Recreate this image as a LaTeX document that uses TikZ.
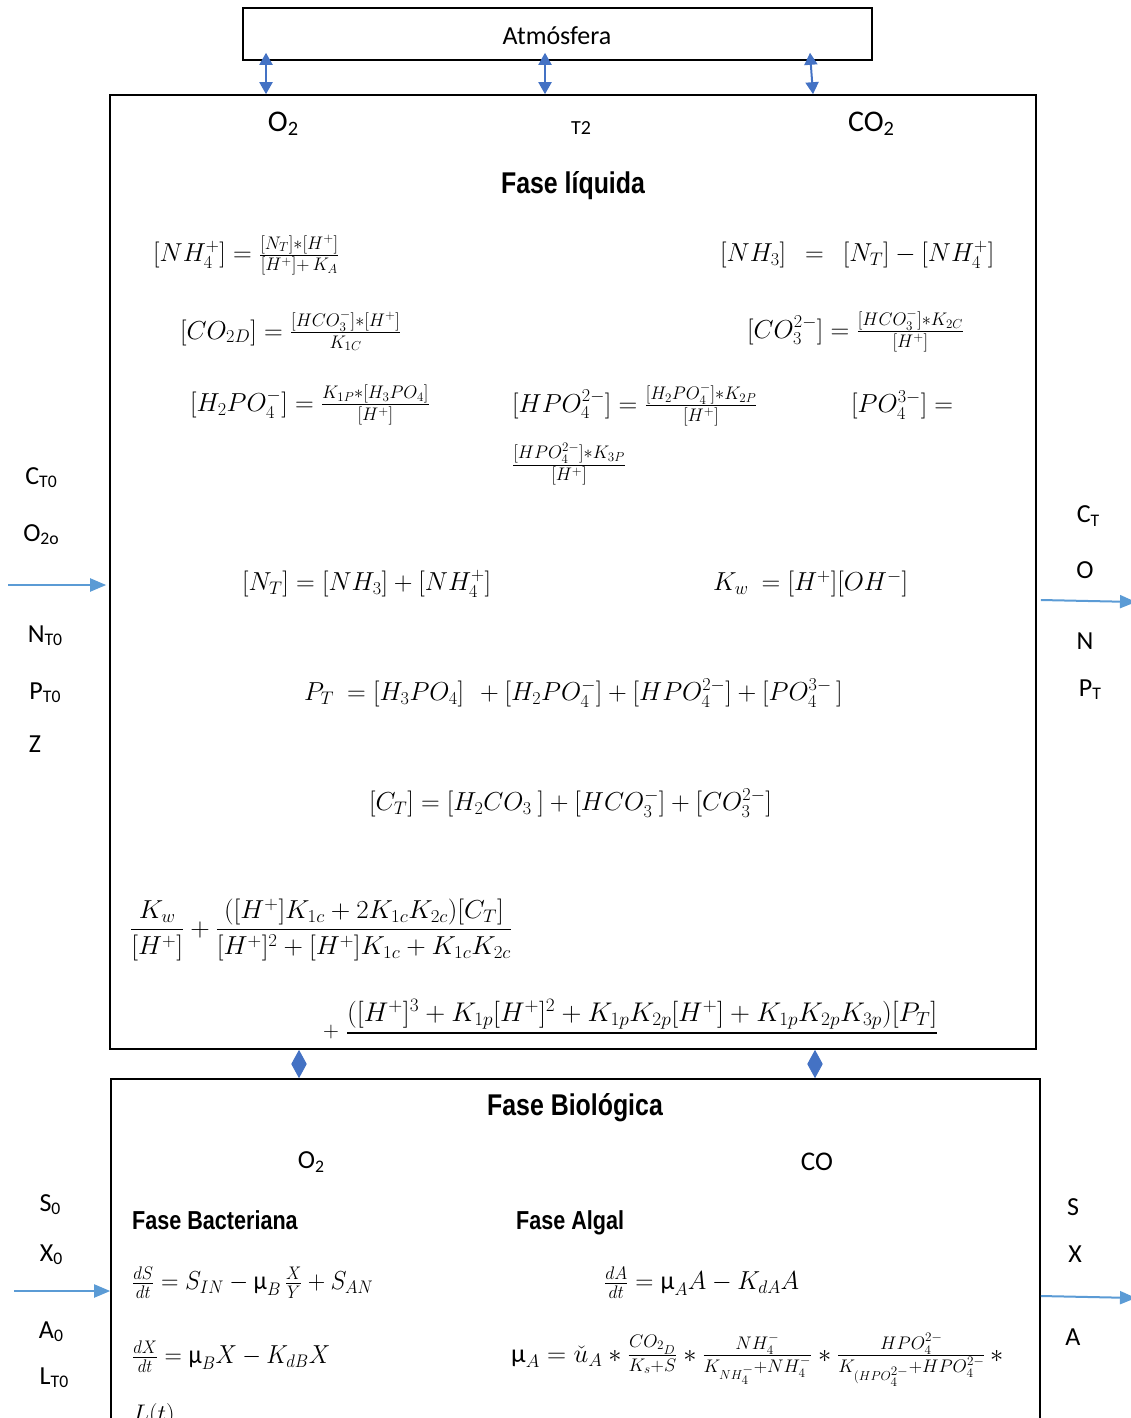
\RequirePackage{fix-cm}
\documentclass[tikz,border=0pt]{standalone}
\usepackage{amsmath}
\usepackage{fontspec}
\usepackage{graphicx}
\setmainfont{Carlito}
\newfontfamily\headfont[FakeStretch=0.83]{Liberation Sans}
\usetikzlibrary{arrows.meta}
\definecolor{arrblue}{HTML}{4472C4}
\definecolor{sideblue}{HTML}{5B9BD5}
\newcommand\lowsub[1]{\raisebox{-0.12em}{\scalebox{0.68}{#1}}}
\newcommand\setfs[1]{\fontsize{#1}{#1}\selectfont}
\newcommand\cond[2]{\resizebox{#1}{\height}{#2}}
\begin{document}
\begin{tikzpicture}[x=1pt,y=-1pt,
  box/.style={draw, line width=1.6pt, inner sep=0pt},
  lbl/.style={font=\setfs{26}, inner sep=0pt},
  toplbl/.style={font=\setfs{30}, inner sep=0pt},
  head/.style={font=\headfont\bfseries\setfs{30}, inner sep=0pt},
  subhead/.style={font=\headfont\bfseries\setfs{26}, inner sep=0pt, anchor=base west},
  eq/.style={font=\setfs{26}, inner sep=0pt, anchor=west},
  dbl/.style={arrblue, line width=2pt, {Triangle[width=13pt,length=12pt]}-{Triangle[width=13pt,length=12pt]}},
  diam/.style={arrblue, line width=1pt, {Triangle[width=15pt,length=14pt]}-{Triangle[width=15pt,length=14pt]}},
  side/.style={sideblue, line width=2pt, -{Triangle[width=13pt,length=16pt]}}]
\useasboundingbox (0,0) rectangle (1131,1418);
\clip (0,0) rectangle (1131,1418);

% boxes
\node[box, minimum width=629pt, minimum height=52pt] (atm) at (557.5,34) {};
\node[font=\setfs{26}, inner sep=0pt] (atmt) at (557,36) {Atmósfera};
\node[box, minimum width=926pt, minimum height=954pt] (liq) at (573,572) {};
\node[box, minimum width=929pt, minimum height=420pt] (bio) at (575.5,1289) {};

% top exchange arrows
\coordinate (xa) at (266,0);
\coordinate (xb) at (545,0);
\coordinate (xc) at (811,0);
\draw[dbl] (atm.south -| xa) ++(0,-8) -- (liq.north -| xa);
\draw[dbl] (atm.south -| xb) ++(0,-8) -- (liq.north -| xb);
\draw[dbl] (atm.south -| xc) ++(-1,-8) -- ([xshift=2pt]liq.north -| xc);

% liquid/biological exchange
\coordinate (da) at (299,0);
\coordinate (db) at (815,0);
\draw[diam] (liq.south -| da) -- (bio.north -| da);
\draw[diam] (liq.south -| db) -- (bio.north -| db);

% side arrows
\coordinate (inL) at (8,585);
\coordinate (outL) at (1136,602);
\draw[side] (inL) -- ([xshift=-3pt]liq.west |- inL);
\draw[side] (liq.east |- outL) ++(4,-2) -- (outL);
\coordinate (inB) at (14,1291);
\coordinate (outB) at (1136,1298);
\draw[side] (inB) -- (bio.west |- inB);
\draw[side] (bio.east |- outB) ++(0,-2) -- (outB);

% labels top of liquid
\node[toplbl] (lo2) at (283,124) {O\lowsub{2}};
\node[font=\setfs{20}, inner sep=0pt] (lt2) at (581,128) {T2};
\node[toplbl] (lco2) at (871,124) {CO\lowsub{2}};
\node[head] (hliq) at (573,186) {Fase líquida};

% liquid equations
\node[eq] (e1) at (153,255) {$[NH_4^+] = \frac{[N_T]*[H^+]}{[H^+]+\,K_A}$};
\node[eq] (e2) at (720,255) {$[NH_3]\ \ =\ \ [N_T] - [NH_4^+]$};
\node[eq] (e3) at (180,331) {$[CO_{2D}] = \frac{[HCO_3^-]*[H^+]}{K_{1C}}$};
\node[eq] (e4) at (747,331) {$[CO_3^{2-}] = \frac{[HCO_3^-]*K_{2C}}{[H^+]}$};
\node[eq] (e5) at (190,405) {$[H_2PO_4^-] = \frac{K_{1P}*[H_3PO_4]}{[H^+]}$};
\node[eq] (e6) at (512,405) {$[HPO_4^{2-}] = \frac{[H_2PO_4^-]*K_{2P}}{[H^+]}$};
\node[eq] (e7) at (851,405) {$[PO_4^{3-}] =$};
\node[eq] (e8) at (512,464) {$\frac{[HPO_4^{2-}]*K_{3P}}{[H^+]}$};
\node[eq] (e9) at (242,584) {$[N_T] = [NH_3] + [NH_4^+]$};
\node[eq] (e10) at (713,584) {$K_w\ = [H^+][OH^-]$};
\node[eq] (e11) at (304,693) {$P_T\ = [H_3PO_4]\ \, + [H_2PO_4^-] + [HPO_4^{2-}] + [PO_4^{3-}\,]$};
\node[eq] (e12) at (369,803) {$[C_T] = [H_2CO_3\ ] + [HCO_3^-] + [CO_3^{2-}]$};
\node[eq] (e13) at (130,930) {\cond{382pt}{$\displaystyle \frac{K_w}{[H^+]} + \frac{([H^+]K_{1c} + 2K_{1c}K_{2c})[C_T]}{[H^+]^2 + [H^+]K_{1c} + K_{1c}K_{2c}}$}};
\node[font=\setfs{22}, inner sep=0pt] (e14p) at (331,1032) {$+$};
\node[font=\setfs{27}, inner xsep=0pt, inner ysep=4pt, anchor=south west] (e14) at (347,1033) {\cond{590pt}{$([H^+]^3 + K_{1p}[H^+]^2 + K_{1p}K_{2p}[H^+] + K_{1p}K_{2p}K_{3p})[P_T]$}};
\draw[line width=1.3pt] (e14.south west) -- (e14.south east);

% left inputs (liquid)
\node[lbl] (ct0) at (41,478) {C\lowsub{T0}};
\node[lbl] (o2o) at (41,535) {O\lowsub{2o}};
\node[lbl] (nt0) at (45,636) {N\lowsub{T0}};
\node[lbl] (pt0) at (45,693) {P\lowsub{T0}};
\node[lbl] (z) at (35,744) {Z};
% right outputs (liquid)
\node[lbl] (ct) at (1088,516) {C\lowsub{T}};
\node[lbl] (oo) at (1085,570) {O};
\node[lbl] (nn) at (1085,641) {N};
\node[lbl] (pt) at (1090,690) {P\lowsub{T}};

% biological phase
\node[head] (hbio) at (575,1108) {Fase Biológica};
\node[lbl] (bo2) at (311,1162) {O\lowsub{2}};
\node[font=\setfs{27}, inner sep=0pt] (bco) at (817,1162) {CO};
\node[subhead] (hbac) at (132,1229) {Fase Bacteriana};
\node[subhead] (halg) at (516,1229) {Fase Algal};

\node[eq] (b1) at (132,1283) {\cond{241pt}{$\frac{dS}{dt} = S_{IN} - \text{µ}_B\,\frac{X}{Y} + S_{AN}$}};
\node[eq] (b2) at (604,1283) {\cond{195pt}{$\frac{dA}{dt} = \text{µ}_A A - K_{dA}A$}};
\node[eq] (b3) at (132,1357) {\cond{198pt}{$\frac{dX}{dt} = \text{µ}_B X - K_{dB}X$}};
\node[eq] (b4) at (511,1360) {\cond{492pt}{$\text{µ}_A = \check{u}_A * \frac{CO_{2_D}}{K_s{+}S} * \frac{NH_4^-}{K_{NH_4^-}{+}NH_4^-} * \frac{HPO_4^{2-}}{K_{(HPO_4^{2-}}{+}HPO_4^{2-}}\, *$}};
\node[font=\setfs{24}, inner sep=0pt, anchor=base west] (lt) at (133,1421) {$L(t)$};

% left inputs (bio)
\node[lbl] (s0) at (50,1205) {S\lowsub{0}};
\node[lbl] (x0) at (51,1255) {X\lowsub{0}};
\node[lbl] (a0) at (51,1332) {A\lowsub{0}};
\node[lbl] (lt0) at (54,1378) {L\lowsub{T0}};
% right outputs (bio)
\node[lbl] (ss) at (1073,1207) {S};
\node[lbl] (xx) at (1075,1254) {X};
\node[lbl] (aa) at (1073,1337) {A};
\end{tikzpicture}
\end{document}
